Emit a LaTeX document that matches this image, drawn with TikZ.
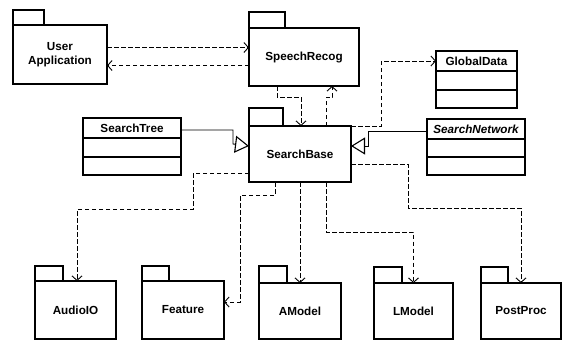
\documentclass[tikz,border=0pt]{standalone}
\usepackage{fontspec}
\setmainfont{Liberation Sans}
\usetikzlibrary{arrows.meta}
\begin{document}
\begin{tikzpicture}[x=1pt,y=-1pt,
  font=\fontsize{11.7}{14.5}\selectfont\bfseries,
  box/.style={draw, line width=1.1pt, inner sep=0pt, outer sep=0pt, anchor=north west},
  pkg/.style={box, align=center},
  tabbox/.style={draw, line width=1.1pt},
  dep/.style={draw, dash pattern=on 4.5pt off 2.5pt, line width=0.9pt, -{Straight Barb[length=4.5pt,width=10pt,line width=0.9pt]}},
  gen/.style={draw, line width=0.9pt, -{Triangle[open,length=14pt,width=17pt,line width=1.1pt]}}]

\useasboundingbox (0,0) rectangle (563,341);

% packages
\node[pkg, minimum width=94pt, minimum height=59pt] (ua) at (13,25) {User\\Application};
\draw[tabbox] (ua.north west) rectangle ++(31,-15);
\node[pkg, minimum width=110pt, minimum height=58pt] (sr) at (249,28) {SpeechRecog};
\draw[tabbox] (sr.north west) rectangle ++(36,-16);
\node[pkg, minimum width=102pt, minimum height=56pt] (sb) at (249,126) {SearchBase};
\draw[tabbox] (sb.north west) rectangle ++(34,-18);
\node[pkg, minimum width=81pt, minimum height=58pt] (au) at (35,281) {AudioIO};
\draw[tabbox] (au.north west) rectangle ++(28,-15);
\node[pkg, minimum width=82pt, minimum height=58pt] (fe) at (142,281) {Feature};
\draw[tabbox] (fe.north west) rectangle ++(27,-15);
\node[pkg, minimum width=82pt, minimum height=56pt] (am) at (259,283) {AModel};
\draw[tabbox] (am.north west) rectangle ++(28,-17);
\node[pkg, minimum width=79pt, minimum height=56pt] (lm) at (374,283) {LModel};
\draw[tabbox] (lm.north west) rectangle ++(28,-16);
\node[pkg, minimum width=80pt, minimum height=56pt] (pp) at (481,283) {PostProc};
\draw[tabbox] (pp.north west) rectangle ++(27,-16);

% classes
\node[box, minimum width=81pt, minimum height=20pt] (gd) at (436,51) {GlobalData};
\draw[tabbox] (gd.south west) rectangle ++(81,19);
\draw[tabbox] ([yshift=-19pt]gd.south west) rectangle ++(81,18);
\node[box, minimum width=98pt, minimum height=20pt, font=\fontsize{11.7}{14.5}\selectfont\bfseries\itshape] (sn) at (427,119) {SearchNetwork};
\draw[tabbox] (sn.south west) rectangle ++(98,18);
\draw[tabbox] ([yshift=-18pt]sn.south west) rectangle ++(98,18);
\node[box, minimum width=98pt, minimum height=20pt] (st) at (83,118) {SearchTree};
\draw[tabbox] (st.south west) rectangle ++(98,19);
\draw[tabbox] ([yshift=-19pt]st.south west) rectangle ++(98,18);

% dependencies
\draw[dep] ([yshift=7pt]ua.east) -- ([yshift=7pt]ua.east -| sr.west);
\draw[dep] ([yshift=-11pt]ua.east -| sr.west) -- ([yshift=-11pt]ua.east);
\draw[dep] ([xshift=28pt]sr.south west) -- ++(0,11) -| ([xshift=52pt]sb.north west);
\draw[dep] ([xshift=77pt]sb.north west) -- ++(0,-29) -| ([xshift=83pt]sr.south west);
\draw[dep] (sb.north east) -- ++(30,0) |- (gd.west);
\draw[dep] ([yshift=-19pt]sb.east -| sb.west) -- ++(-56,0) -- ++(0,36) -| ([xshift=42pt]au.north west);
\draw[dep] ([xshift=26pt]sb.south west) -- ++(0,13) -- ++(-35,0) |- ([yshift=8pt]fe.east);
\draw[dep] (am.north |- sb.south) -- (am.north);
\draw[dep] ([xshift=77pt]sb.south west) -- ++(0,50) -| (lm.north);
\draw[dep] ([yshift=-10pt]sb.east) -- ++(57,0) -- ++(0,44) -| (pp.north);

% generalizations
\draw[gen] ([yshift=-2pt]st.east) -- ++(52,0) -- ++(0,14) -- ([yshift=8pt]sb.west);
\draw[gen] ([yshift=-2pt]sn.west) -- ++(-59,0) -- ++(0,15) -- ([yshift=8pt]sb.east);
\end{tikzpicture}
\end{document}
